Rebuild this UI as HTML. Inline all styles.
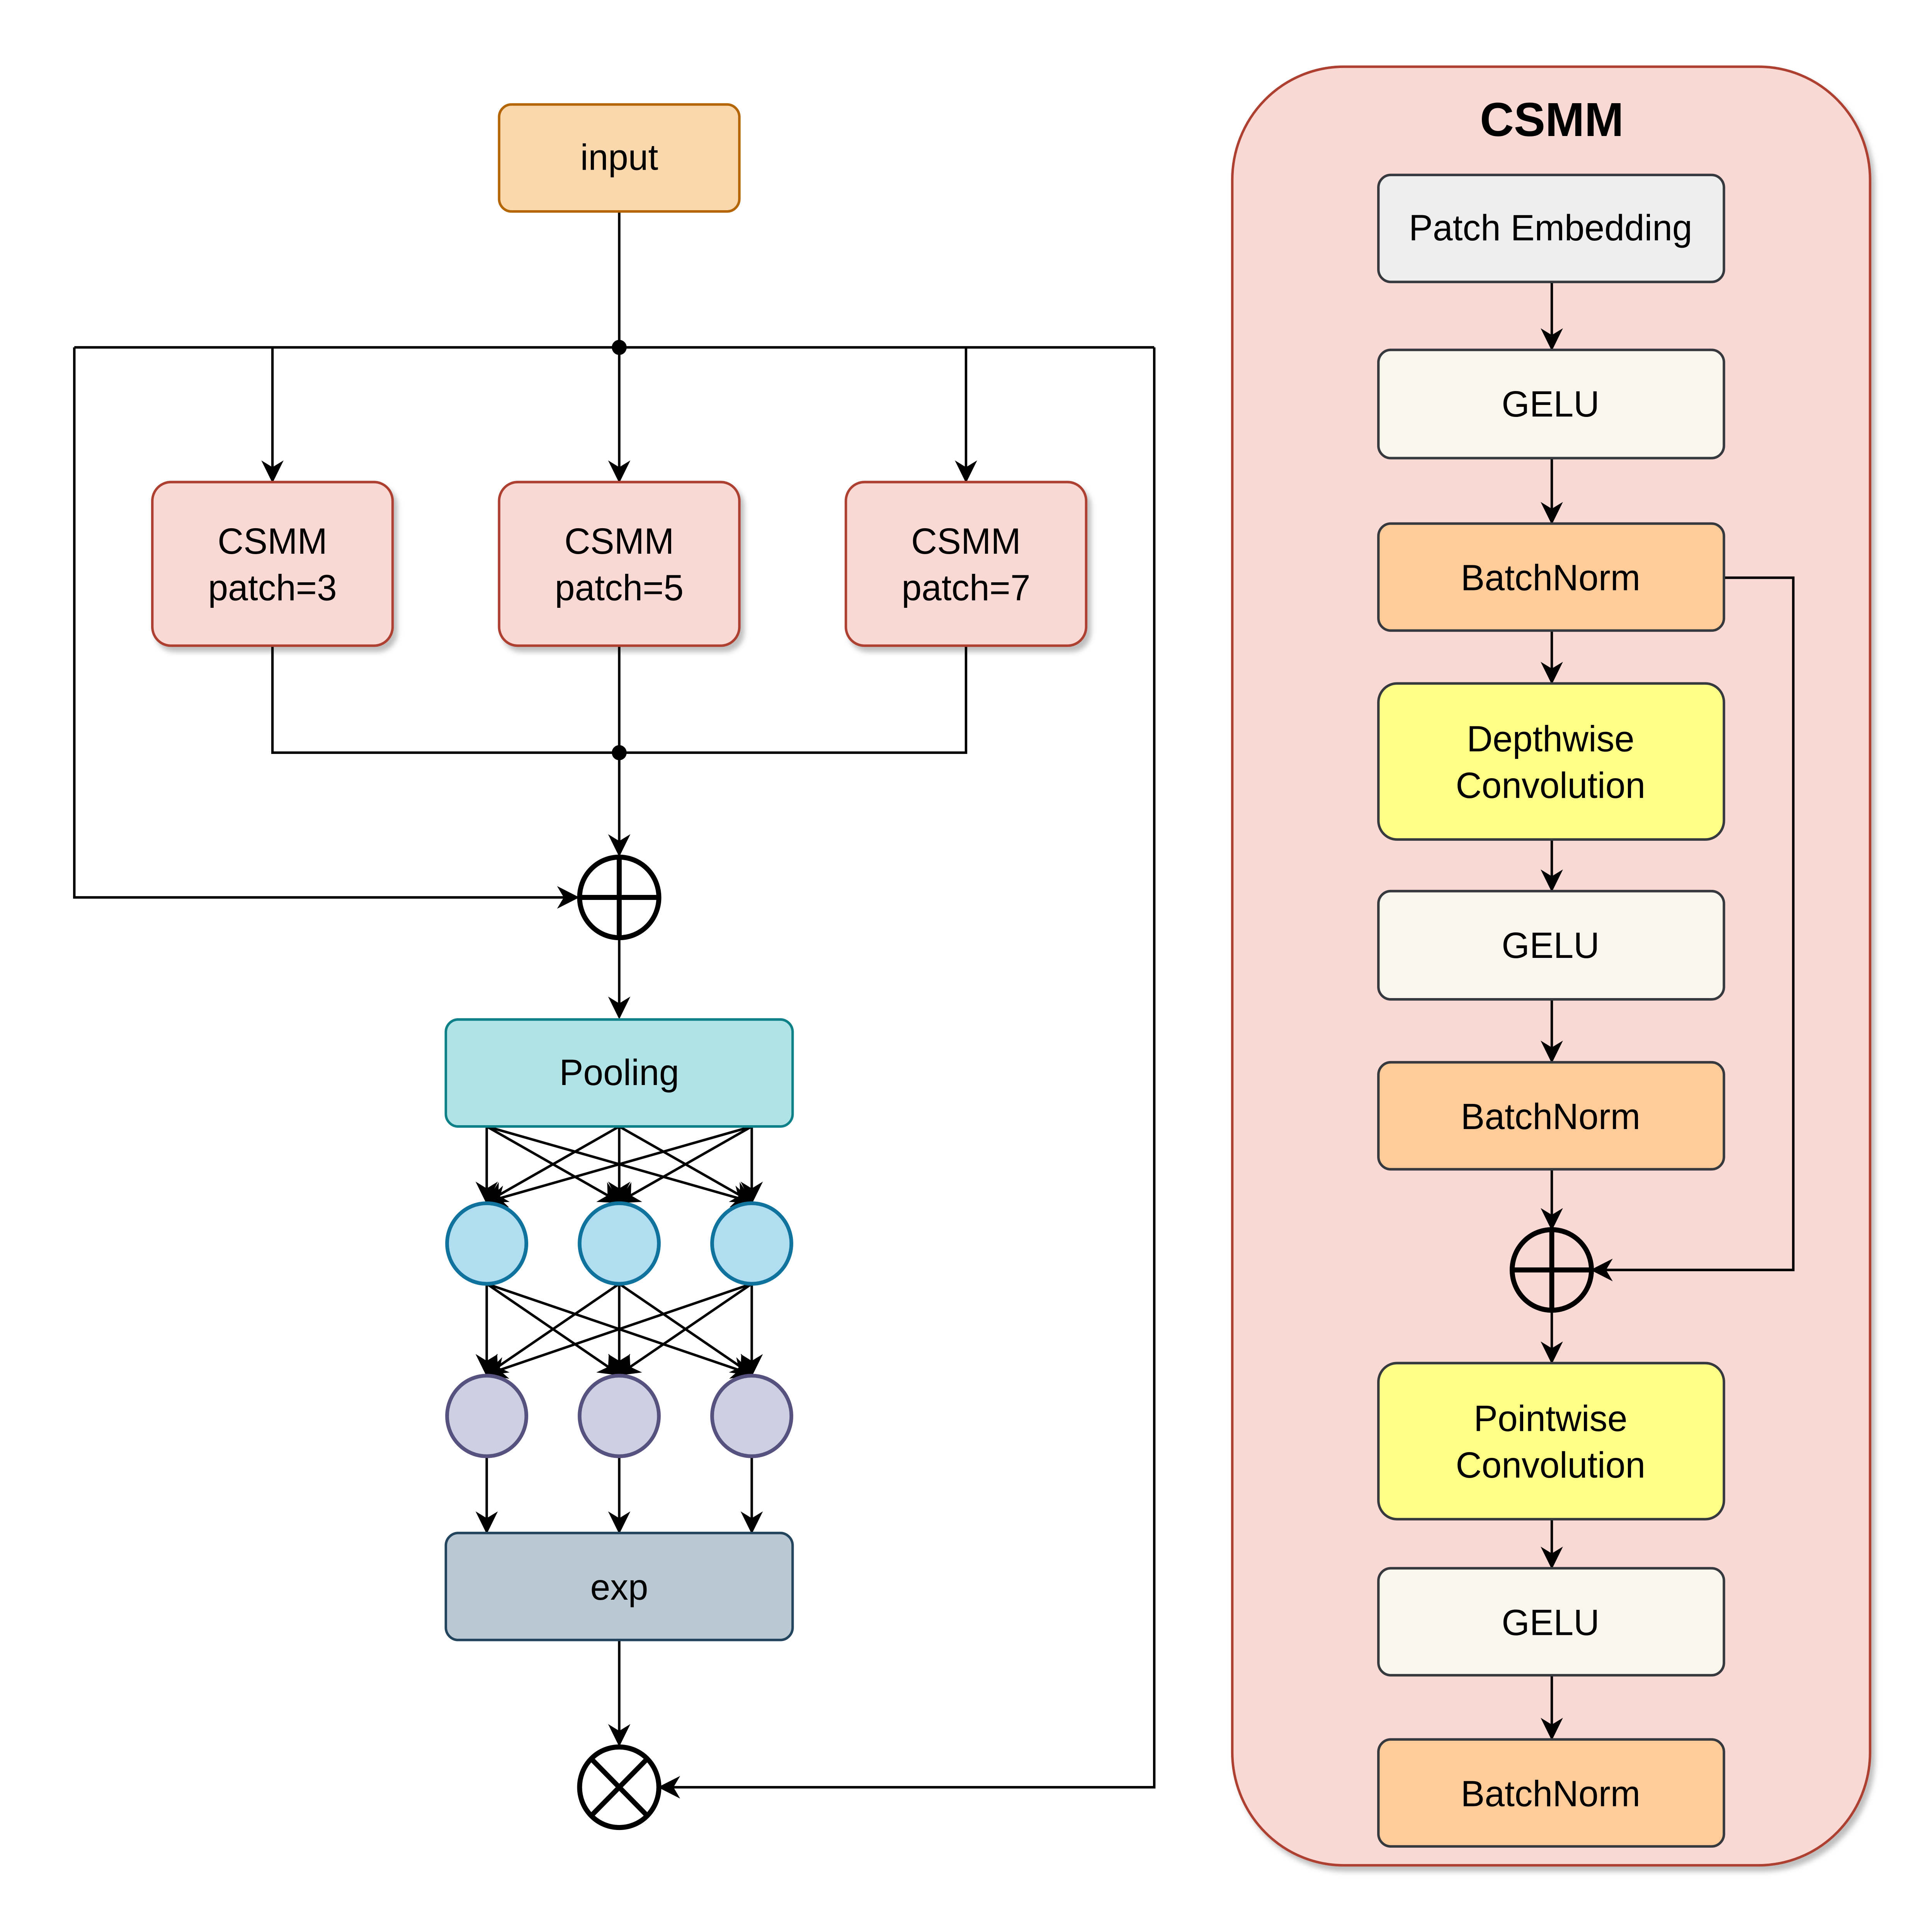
<!DOCTYPE html>
<html><head><meta charset="utf-8"><style>
html,body{margin:0;padding:0;background:#fff;width:100%;height:100%;overflow:hidden;}
svg{display:block;position:fixed;left:0;top:0;width:100vw;height:100vh;}
text{font-family:"Liberation Sans",Arial,sans-serif;}
</style></head><body>
<svg viewBox="0 0 1560 1535" preserveAspectRatio="none" xmlns="http://www.w3.org/2000/svg">
<defs>
<marker id="b" viewBox="0 0 10 10" refX="9" refY="5" markerWidth="18" markerHeight="18" markerUnits="userSpaceOnUse" orient="auto">
<path d="M0,0 L10,5 L0,10 L3,5 Z" fill="#000"/></marker>
<filter id="s" x="-10%" y="-10%" width="130%" height="130%"><feDropShadow dx="3" dy="4" stdDeviation="2" flood-color="#000" flood-opacity="0.25"/></filter>
</defs>
<rect width="1560" height="1535" fill="#fff"/>
<g stroke="#000" stroke-width="2" fill="none">
<line x1="500" y1="168" x2="500" y2="276"/>
<polyline points="60,276 932,276"/>
<polyline points="60,276 60,713 466,713" marker-end="url(#b)"/>
<polyline points="932,276 932,1420 533,1420" marker-end="url(#b)"/>
<line x1="220" y1="276" x2="220" y2="382" marker-end="url(#b)"/>
<line x1="500" y1="276" x2="500" y2="382" marker-end="url(#b)"/>
<line x1="780" y1="276" x2="780" y2="382" marker-end="url(#b)"/>
<polyline points="220,513 220,598 780,598 780,513"/>
<line x1="500" y1="513" x2="500" y2="679" marker-end="url(#b)"/>
<line x1="500" y1="745" x2="500" y2="808" marker-end="url(#b)"/>
<g marker-end="url(#b)">
<line x1="393" y1="895" x2="393" y2="955"/><line x1="393" y1="895" x2="500" y2="955"/><line x1="393" y1="895" x2="607" y2="955"/>
<line x1="500" y1="895" x2="393" y2="955"/><line x1="500" y1="895" x2="500" y2="955"/><line x1="500" y1="895" x2="607" y2="955"/>
<line x1="607" y1="895" x2="393" y2="955"/><line x1="607" y1="895" x2="500" y2="955"/><line x1="607" y1="895" x2="607" y2="955"/>
<line x1="393" y1="1020" x2="393" y2="1092"/><line x1="393" y1="1020" x2="500" y2="1092"/><line x1="393" y1="1020" x2="607" y2="1092"/>
<line x1="500" y1="1020" x2="393" y2="1092"/><line x1="500" y1="1020" x2="500" y2="1092"/><line x1="500" y1="1020" x2="607" y2="1092"/>
<line x1="607" y1="1020" x2="393" y2="1092"/><line x1="607" y1="1020" x2="500" y2="1092"/><line x1="607" y1="1020" x2="607" y2="1092"/>
<line x1="393" y1="1158" x2="393" y2="1217"/><line x1="500" y1="1158" x2="500" y2="1217"/><line x1="607" y1="1158" x2="607" y2="1217"/>
<line x1="500" y1="1303" x2="500" y2="1386"/>
</g>
</g>
<circle cx="500" cy="276" r="6" fill="#000"/>
<circle cx="500" cy="598" r="6" fill="#000"/>
<rect x="403" y="83" width="194" height="85" rx="10" fill="#fad7ac" stroke="#b46504" stroke-width="2"/>
<text x="500" y="135" font-size="29" text-anchor="middle">input</text>
<g filter="url(#s)" fill="#fad9d5" stroke="#ae4132" stroke-width="2">
<rect x="123" y="383" width="194" height="130" rx="15"/>
<rect x="403" y="383" width="194" height="130" rx="15"/>
<rect x="683" y="383" width="194" height="130" rx="15"/>
</g>
<g font-size="29" text-anchor="middle">
<text x="220" y="440">CSMM</text><text x="220" y="477">patch=3</text>
<text x="500" y="440">CSMM</text><text x="500" y="477">patch=5</text>
<text x="780" y="440">CSMM</text><text x="780" y="477">patch=7</text>
</g>
<g fill="#fff" stroke="#000" stroke-width="4">
<circle cx="500" cy="713" r="32"/>
<line x1="468" y1="713" x2="532" y2="713"/><line x1="500" y1="681" x2="500" y2="745"/>
<circle cx="500" cy="1420" r="32"/>
<line x1="477" y1="1397" x2="523" y2="1443"/><line x1="523" y1="1397" x2="477" y2="1443"/>
</g>
<rect x="360" y="810" width="280" height="85" rx="10" fill="#b0e3e6" stroke="#0e8088" stroke-width="2"/>
<text x="500" y="862" font-size="29" text-anchor="middle">Pooling</text>
<g fill="#b1ddf0" stroke="#10739e" stroke-width="3">
<circle cx="393" cy="988" r="32"/><circle cx="500" cy="988" r="32"/><circle cx="607" cy="988" r="32"/>
</g>
<g fill="#d0cee2" stroke="#56517e" stroke-width="3">
<circle cx="393" cy="1125" r="32"/><circle cx="500" cy="1125" r="32"/><circle cx="607" cy="1125" r="32"/>
</g>
<rect x="360" y="1218" width="280" height="85" rx="10" fill="#bac8d3" stroke="#23445d" stroke-width="2"/>
<text x="500" y="1271" font-size="29" text-anchor="middle">exp</text>
<rect x="995" y="53" width="515" height="1429" rx="90" fill="#fad9d5" stroke="#ae4132" stroke-width="2" filter="url(#s)"/>
<text x="1253" y="108" font-size="38" font-weight="bold" text-anchor="middle">CSMM</text>
<g stroke="#000" stroke-width="2" fill="none" marker-end="url(#b)">
<line x1="1253" y1="224" x2="1253" y2="277"/>
<line x1="1253" y1="364" x2="1253" y2="415"/>
<line x1="1253" y1="501" x2="1253" y2="542"/>
<line x1="1253" y1="667" x2="1253" y2="707"/>
<line x1="1253" y1="794" x2="1253" y2="843"/>
<line x1="1253" y1="929" x2="1253" y2="976"/>
<line x1="1253" y1="1041" x2="1253" y2="1082"/>
<line x1="1253" y1="1207" x2="1253" y2="1245"/>
<line x1="1253" y1="1331" x2="1253" y2="1381"/>
<polyline points="1392,459 1448,459 1448,1009 1286,1009"/>
</g>
<g stroke="#36393d" stroke-width="2">
<rect x="1113" y="139" width="279" height="85" rx="10" fill="#eeeeee"/>
<rect x="1113" y="278" width="279" height="86" rx="10" fill="#f9f7ed"/>
<rect x="1113" y="416" width="279" height="85" rx="10" fill="#ffcc99"/>
<rect x="1113" y="543" width="279" height="124" rx="15" fill="#ffff88"/>
<rect x="1113" y="708" width="279" height="86" rx="10" fill="#f9f7ed"/>
<rect x="1113" y="844" width="279" height="85" rx="10" fill="#ffcc99"/>
<rect x="1113" y="1083" width="279" height="124" rx="15" fill="#ffff88"/>
<rect x="1113" y="1246" width="279" height="85" rx="10" fill="#f9f7ed"/>
<rect x="1113" y="1382" width="279" height="85" rx="10" fill="#ffcc99"/>
</g>
<g fill="none" stroke="#000" stroke-width="4">
<circle cx="1253" cy="1009" r="32"/>
<line x1="1221" y1="1009" x2="1285" y2="1009"/><line x1="1253" y1="977" x2="1253" y2="1041"/>
</g>
<g font-size="29" text-anchor="middle">
<text x="1252" y="191">Patch Embedding</text>
<text x="1252" y="331">GELU</text>
<text x="1252" y="469">BatchNorm</text>
<text x="1252" y="597">Depthwise</text>
<text x="1252" y="634">Convolution</text>
<text x="1252" y="761">GELU</text>
<text x="1252" y="897">BatchNorm</text>
<text x="1252" y="1137">Pointwise</text>
<text x="1252" y="1174">Convolution</text>
<text x="1252" y="1299">GELU</text>
<text x="1252" y="1435">BatchNorm</text>
</g>
</svg>
</body></html>
